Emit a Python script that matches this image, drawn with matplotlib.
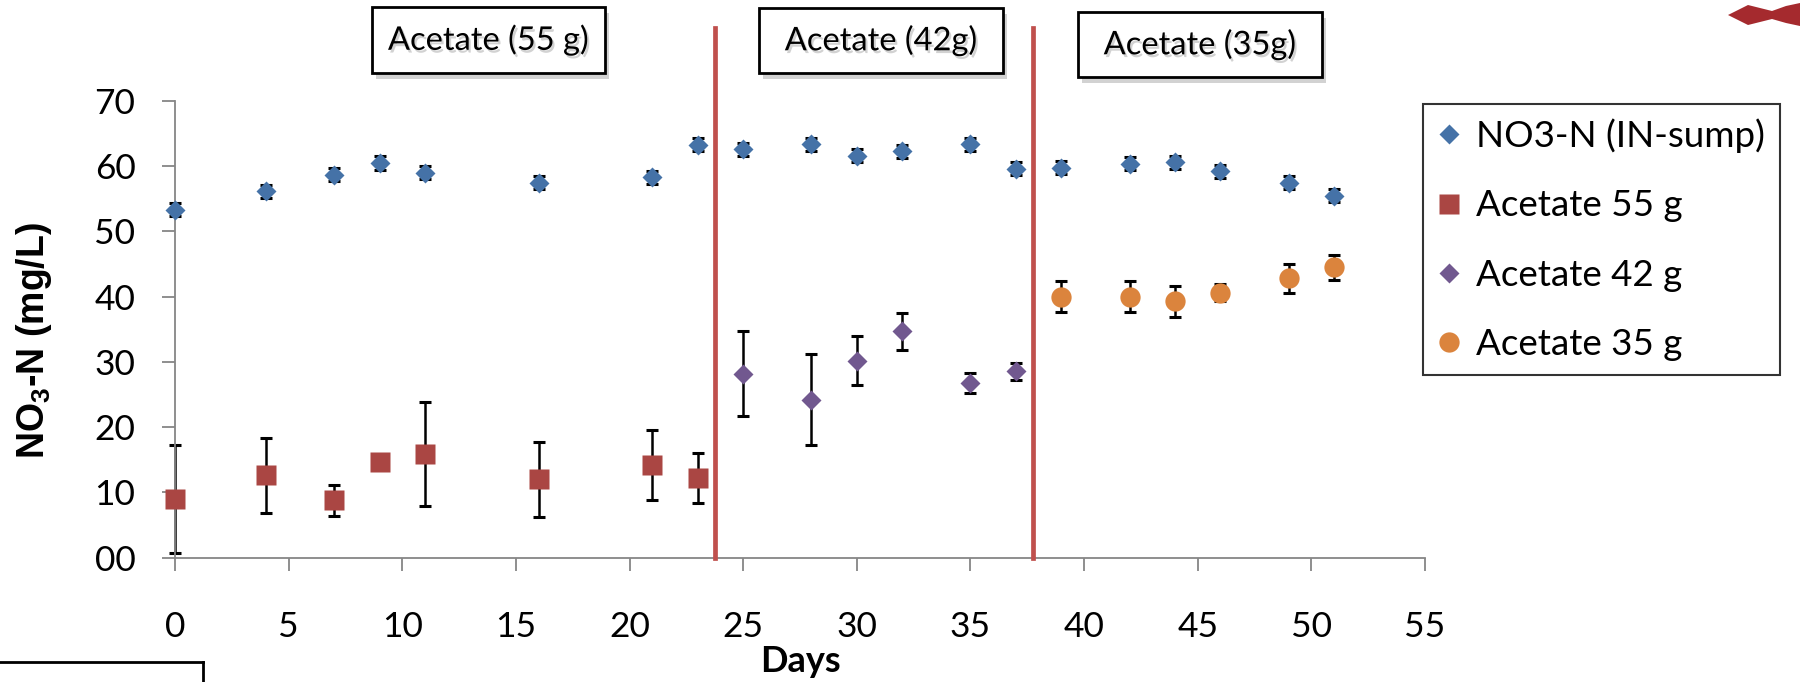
import numpy as np
import matplotlib
matplotlib.use('Agg')
import matplotlib.pyplot as plt
import matplotlib.patheffects as pe
from matplotlib.patches import Rectangle, Polygon
from matplotlib.lines import Line2D

plt.rcParams['font.family'] = ['Lato', 'DejaVu Sans']
plt.rcParams['mathtext.fontset'] = 'custom'
plt.rcParams['mathtext.rm'] = 'Liberation Sans:bold'
plt.rcParams['mathtext.default'] = 'rm'

# NO3-N inflow (sump)
days_in = [0, 4, 7, 9, 11, 16, 21, 23, 25, 28, 30, 32, 35, 37, 39, 42, 44, 46, 49, 51]
no3_in = [53.3, 56.2, 58.7, 60.5, 59.0, 57.5, 58.3, 63.3, 62.6, 63.4, 61.6, 62.3,
          63.4, 59.6, 59.8, 60.4, 60.6, 59.2, 57.5, 55.5]
err_in = [1.0] * 20

# acetate dosing periods
days_55 = [0, 4, 7, 9, 11, 16, 21, 23]
no3_55 = [9.0, 12.6, 8.8, 14.7, 15.9, 12.0, 14.2, 12.2]
err_55 = [8.3, 5.7, 2.4, 0.5, 8.0, 5.7, 5.3, 3.8]

days_42 = [25, 28, 30, 32, 35, 37]
no3_42 = [28.2, 24.2, 30.2, 34.7, 26.8, 28.6]
err_42 = [6.5, 7.0, 3.8, 2.8, 1.5, 1.3]

days_35 = [39, 42, 44, 46, 49, 51]
no3_35 = [40.0, 40.0, 39.3, 40.6, 42.8, 44.5]
err_35 = [2.4, 2.4, 2.4, 1.3, 2.2, 1.9]

switch_days = [23.75, 37.75]
period_labels = ['Acetate (55 g)', 'Acetate (42g)', 'Acetate (35g)']
series_labels = ['NO3-N (IN-sump)', 'Acetate 55 g', 'Acetate 42 g', 'Acetate 35 g']
yticks = [0, 10, 20, 30, 40, 50, 60, 70]
ytick_labels = ['00', '10', '20', '30', '40', '50', '60', '70']

W, H = 1800, 682
fig = plt.figure(figsize=(18, 6.82), dpi=100)
ax = fig.add_axes([175 / W, 1 - 557.7 / H, 1250 / W, 456.7 / H])

gray = '#868686'
cols = ['#4572A7', '#AA4643', '#71588F', '#DB843D']
ebkw = dict(fmt='none', ecolor='black', elinewidth=1.8, capsize=4, capthick=2.2, zorder=2)

for d, v, e in [(days_in, no3_in, err_in), (days_55, no3_55, err_55),
                (days_42, no3_42, err_42), (days_35, no3_35, err_35)]:
    eb = ax.errorbar(d, v, yerr=e, **ebkw)
    for art in eb.lines[1] + eb.lines[2]:
        art.set_clip_on(False)

h1, = ax.plot(days_in, no3_in, 'D', ms=10.2, color=cols[0], mec='none', zorder=3, clip_on=False)
h2, = ax.plot(days_55, no3_55, 's', ms=14.4, color=cols[1], mec='none', zorder=3, clip_on=False)
h3, = ax.plot(days_42, no3_42, 'D', ms=10.2, color=cols[2], mec='none', zorder=3, clip_on=False)
h4, = ax.plot(days_35, no3_35, 'o', ms=14.6, color=cols[3], mec='none', zorder=3, clip_on=False)

for d in switch_days:
    ax.axvline(d, ymin=0, ymax=(557.7 - 28) / 456.7, color='#C0504D', lw=3.4, clip_on=False, zorder=4)

ax.set_xlim(0, 55)
ax.set_ylim(0, 70)
ax.set_xticks(np.arange(0, 56, 5))
ax.set_yticks(yticks)
ax.set_yticklabels(ytick_labels)
for s in ['top', 'right']:
    ax.spines[s].set_visible(False)
for s in ['left', 'bottom']:
    ax.spines[s].set_color(gray)
    ax.spines[s].set_linewidth(1.3)
ax.tick_params(axis='both', direction='out', length=9.5, width=1.3, color=gray, labelsize=25.5)
ax.tick_params(axis='x', pad=29)
ax.tick_params(axis='y', pad=19)

fig.text(800 / W, 1 - 661 / H, 'Days', ha='center', va='center', fontsize=26, fontweight='bold')
fig.text(34 / W, 1 - 341 / H, 'NO$_3$-N (mg/L)', rotation=90, ha='center', va='center',
         fontsize=27, fontweight='bold', family='Liberation Sans')

leg = fig.legend([h1, h2, h3, h4], series_labels, loc='upper left',
                 bbox_to_anchor=(1423 / W, 1 - 104 / H), fontsize=26.5, frameon=True,
                 fancybox=False, borderpad=0.4, labelspacing=0.98, handlelength=0.6,
                 handletextpad=0.45, borderaxespad=0)
leg.get_frame().set_edgecolor('black')
leg.get_frame().set_linewidth(1.5)

# boxes naming each dosing period (pixel extents)
boxes = [(372, 7, 605, 73), (759, 8, 1003, 73), (1078, 12, 1322, 77)]
for (x0, y0, x1, y1), lab in zip(boxes, period_labels):
    r = Rectangle((x0 / W, 1 - y1 / H), (x1 - x0) / W, (y1 - y0) / H, transform=fig.transFigure,
                  facecolor='white', edgecolor='black', lw=2,
                  path_effects=[pe.SimplePatchShadow(offset=(3, -4), alpha=0.25), pe.Normal()])
    fig.add_artist(r)
    fig.text((x0 + x1) / 2 / W, 1 - (y0 + y1) / 2 / H, lab, ha='center', va='center', fontsize=23.5,
             path_effects=[pe.withSimplePatchShadow(offset=(1.5, -2), shadow_rgbFace='gray', alpha=0.35)])

# bottom-left fragment of another text box
fig.add_artist(Line2D([0, 203 / W], [1 - 662 / H, 1 - 662 / H], transform=fig.transFigure, color='black', lw=2))
fig.add_artist(Line2D([203 / W, 203 / W], [1 - 662 / H, 0], transform=fig.transFigure, color='black', lw=2))

# red arrow shape at the top right corner
pts = [(1728, 15), (1748, 5), (1760, 8), (1772, 11), (1786, 6), (1800, 3),
       (1800, 26), (1786, 23), (1772, 19), (1760, 22), (1748, 25)]
fig.add_artist(Polygon([(x / W, 1 - y / H) for x, y in pts], closed=True, transform=fig.transFigure,
                       facecolor='#A52A2E', edgecolor='none'))

fig.savefig('out.png', dpi=100)
